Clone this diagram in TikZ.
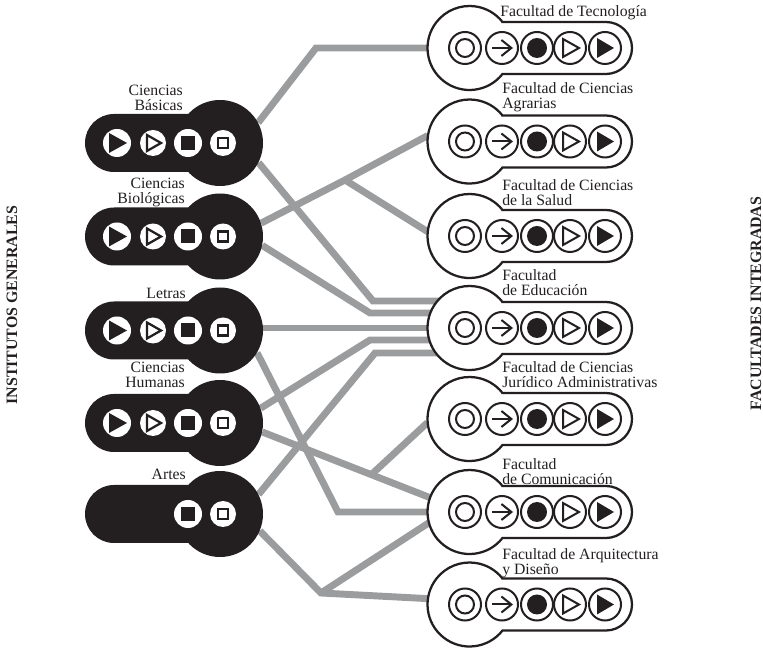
\documentclass[tikz,border=0pt]{standalone}
\usepackage{fontspec}
\setmainfont{Liberation Serif}
\usetikzlibrary{arrows.meta,backgrounds}
\definecolor{negro}{HTML}{231F20}
\definecolor{gris}{HTML}{9B9C9E}
\tikzset{
  nucleo/.style={circle,minimum size=63pt,inner sep=0pt},
  conector/.style={draw=gris,line width=5.2pt,line join=miter},
  rotuloizq/.style={anchor=south east,align=right,inner sep=0pt,text depth=0pt,text=negro,font=\fontsize{11.8}{11.5}\selectfont},
  rotuloder/.style={anchor=south west,align=left,inner sep=0pt,text depth=0pt,text=negro,font=\fontsize{11.8}{11.5}\selectfont},
  lateral/.style={rotate=90,inner sep=0pt,text=negro,font=\fontsize{11.9}{12}\selectfont\bfseries},
  trazo/.style={draw=negro,line width=1.5pt},
  contorno/.style={draw=negro,line width=1.7pt},
  pics/playlleno/.style={code={
    \fill[white] (0,0) circle[radius=14];
    \fill[negro] (-8,10) -- (10,0) -- (-8,-10) -- cycle;}},
  pics/playhueco/.style={code={
    \fill[white] (0,0) circle[radius=13];
    \draw[negro,line width=1.7pt,line join=miter] (-6,8) -- (8,0) -- (-6,-8) -- cycle;}},
  pics/cuadrolleno/.style={code={
    \fill[white] (0,0) circle[radius=14];
    \fill[negro] (-7,-7) rectangle (7,7);}},
  pics/cuadrohueco/.style={code={
    \fill[white] (0,0) circle[radius=13];
    \draw[negro,line width=1.8pt] (-5,-5) rectangle (5,5);}},
  pics/aro/.style={code={
    \draw[trazo,fill=white] (0,0) circle[radius=16];
    \draw[trazo] (0,0) circle[radius=9];}},
  pics/flecha/.style={code={
    \draw[trazo,fill=white] (0,0) circle[radius=16];
    \draw[trazo,-{Straight Barb[length=7.5pt,width=12pt]}] (-10,0) -- (11,0);}},
  pics/punto/.style={code={
    \draw[trazo,fill=white] (0,0) circle[radius=16];
    \fill[negro] (0,0) circle[radius=10];}},
  pics/triangulo/.style={code={
    \draw[trazo,fill=white] (0,0) circle[radius=16];
    \draw[trazo,line join=miter] (-7,9) -- (9,0) -- (-7,-9) -- cycle;}},
  pics/triangulolleno/.style={code={
    \draw[trazo,fill=white] (0,0) circle[radius=16];
    \fill[negro] (-8,10) -- (9,0) -- (-8,-10) -- cycle;}},
}
\begin{document}
\begin{tikzpicture}[x=0.75pt,y=0.75pt]
  \useasboundingbox (0,0) rectangle (763,649);

  % Institutos
  \foreach \n/\y in {bas/506,bio/412.5,let/318.5,hum/226,art/135}{
    \node[nucleo,minimum size=64.5pt,fill=negro] (\n) at (220,\y) {};
    \fill[negro,rounded corners=21.7pt] (85,\y-29) rectangle (220,\y+29);
    \pic at (188,\y) {cuadrolleno};
    \pic at (223,\y) {cuadrohueco};
  }
  \foreach \y in {506,412.5,318.5,226}{
    \pic at (117,\y) {playlleno};
    \pic at (153,\y) {playhueco};
  }

  % Facultades
  \foreach \n/\y in {tec/601,agr/507.5,sal/413,edu/321,jur/230,com/137,arq/44.5}{
    \node[nucleo] (\n) at (469.5,\y) {};
    \draw[contorno,fill=white] (502.5,\y+26) -- (606,\y+26)
      arc[start angle=90,end angle=-90,radius=26] -- (502.5,\y-26)
      arc[start angle=-38.25,end angle=-321.75,radius=42] -- cycle;
    \pic at (465,\y) {aro};
    \pic at (502,\y) {flecha};
    \pic at (537,\y) {punto};
    \pic at (570,\y) {triangulo};
    \pic at (605,\y) {triangulolleno};
  }

  % Rotulos
  \node[rotuloizq] (rbas) at (183,538) {Ciencias\\Básicas};
  \node[rotuloizq] (rbio) at (185,445) {Ciencias\\Biológicas};
  \node[rotuloizq] (rlet) at (186,350) {Letras};
  \node[rotuloizq] (rhum) at (185,261) {Ciencias\\Humanas};
  \node[rotuloizq] (rart) at (186,169) {Artes};

  \node[rotuloder] (rtec) at (500,632) {Facultad de Tecnología};
  \node[rotuloder] (ragr) at (502,540) {Facultad de Ciencias\\Agrarias};
  \node[rotuloder] (rsal) at (502,443) {Facultad de Ciencias\\de la Salud};
  \node[rotuloder] (redu) at (502,353) {Facultad\\de Educación};
  \node[rotuloder] (rjur) at (502,261) {Facultad de Ciencias\\Jurídico Administrativas};
  \node[rotuloder] (rcom) at (502,164) {Facultad\\de Comunicación};
  \node[rotuloder] (rarq) at (502,74) {Facultad de Arquitectura\\y Diseño};

  \node[lateral] (institutos) at (12,344) {INSTITUTOS GENERALES};
  \node[lateral] (facultades) at (756,345.5) {FACULTADES INTEGRADAS};

  % Conectores
  \coordinate (codotec) at (316,601);
  \coordinate (edua) at (373,348);
  \coordinate (edub) at (370,336);
  \coordinate (educ) at (370,309);
  \coordinate (edud) at (375,296);
  \coordinate (ramagr) at (345,469);
  \coordinate (codocom) at (338,137);
  \coordinate (ramjur) at (372,175);
  \coordinate (ramarq) at (321,56);
  \begin{scope}[on background layer]
    \draw[conector] (bas.28) -- (codotec) -- (tec);
    \draw[conector] (bas.-27) -- (edua) -- (edua -| edu);
    \draw[conector] (bio.18) -- (ramagr) -- (agr.172);
    \draw[conector] (ramagr) -- (sal.174);
    \draw[conector] (bio.-12) -- (edub) -- (edub -| edu);
    \draw[conector] (edu -| let) -- (edu);
    \draw[conector] (let.-31) -- (codocom) -- (codocom -| com);
    \draw[conector] (hum.20) -- (educ) -- (educ -| edu);
    \draw[conector] (hum.-12) -- (com.160);
    \draw[conector] (ramjur) -- (jur.185);
    \draw[conector] (art.27) -- (edud) -- (edud -| edu);
    \draw[conector] (art.-23) -- (ramarq) -- (arq.172);
    \draw[conector] (ramarq) -- (com.195);
  \end{scope}
\end{tikzpicture}
\end{document}
